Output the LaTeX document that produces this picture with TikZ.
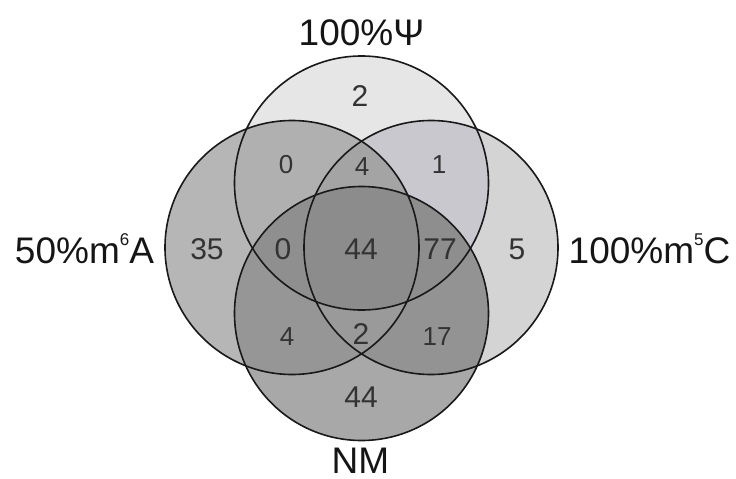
\documentclass[tikz,border=0pt]{standalone}
\usepackage{fontspec}
\setmainfont{Liberation Sans}
\definecolor{cT}{HTML}{E6E6E6}
\definecolor{cL}{HTML}{B6B6B6}
\definecolor{cR}{HTML}{D4D4D4}
\definecolor{cB}{HTML}{A8A8A8}
\definecolor{cTL}{HTML}{B0B0B0}
\definecolor{cTR}{HTML}{C8C8CE}
\definecolor{cLB}{HTML}{969696}
\definecolor{cRB}{HTML}{939393}
\definecolor{cTLR}{HTML}{A4A4A4}
\definecolor{cLRB}{HTML}{9A9A9A}
\definecolor{cTLB}{HTML}{8F8F8F}
\definecolor{cTRB}{HTML}{8E8E8E}
\definecolor{cAll}{HTML}{8C8C8C}
\definecolor{numc}{HTML}{333333}
\definecolor{labc}{HTML}{151515}
\newcommand{\supnum}[1]{\raisebox{18pt}{\fontsize{17}{17}\selectfont #1}}
\begin{document}
\begin{tikzpicture}[x=1pt,y=-1pt,
  ring/.style={draw=black!90,line width=1.6pt},
  bignum/.style={text=numc,font=\fontsize{30}{31}\selectfont,inner sep=0pt},
  smallnum/.style={text=numc,font=\fontsize{26}{27}\selectfont,inner sep=0pt},
  setlabel/.style={text=labc,font=\fontsize{37}{40}\selectfont,inner sep=0pt,anchor=base}]
\useasboundingbox (0,0) rectangle (736,479);
\def\rr{127}
\coordinate (T) at (361.5,183);
\coordinate (L) at (292,247.5);
\coordinate (R) at (431,247.5);
\coordinate (B) at (361.5,313.5);
\def\cT{(T) circle[radius=\rr]}
\def\cL{(L) circle[radius=\rr]}
\def\cR{(R) circle[radius=\rr]}
\def\cB{(B) circle[radius=\rr]}
% singles
\fill[cT] \cT;
\fill[cL] \cL;
\fill[cR] \cR;
\fill[cB] \cB;
% pairs
\begin{scope}\clip \cT; \fill[cTL] \cL; \end{scope}
\begin{scope}\clip \cT; \fill[cTR] \cR; \end{scope}
\begin{scope}\clip \cL; \fill[cLB] \cB; \end{scope}
\begin{scope}\clip \cR; \fill[cRB] \cB; \end{scope}
% triples
\begin{scope}\clip \cT; \clip \cL; \fill[cTLR] \cR; \end{scope}
\begin{scope}\clip \cL; \clip \cR; \fill[cLRB] \cB; \end{scope}
\begin{scope}\clip \cT; \clip \cL; \fill[cTLB] \cB; \end{scope}
\begin{scope}\clip \cT; \clip \cR; \fill[cTRB] \cB; \end{scope}
% all
\begin{scope}\clip \cT; \clip \cL; \clip \cR; \fill[cAll] \cB; \end{scope}
% outlines
\draw[ring] \cT; \draw[ring] \cL; \draw[ring] \cR; \draw[ring] \cB;
% numbers
\node[bignum] (n2) at (360,96) {2};
\node[smallnum] (n0a) at (286,165) {0};
\node[smallnum] (n4a) at (362,167) {4};
\node[smallnum] (n1) at (439,165) {1};
\node[bignum] (n35) at (207,249) {35};
\node[bignum] (n0b) at (283,249) {0};
\node[bignum] (n44a) at (361,249) {44};
\node[bignum] (n77) at (440,249) {77};
\node[bignum] (n5) at (517,249) {5};
\node[smallnum] (n4b) at (287,337) {4};
\node[bignum] (n2b) at (361,334) {2};
\node[smallnum] (n17) at (437,337) {17};
\node[bignum] (n44b) at (361,397) {44};
% labels
\node[setlabel] (lT) at (361.5,45) {100\%Ψ};
\node[setlabel] (lL) at (84.5,263) {50\%m\supnum{6}A};
\node[setlabel] (lR) at (649.5,263) {100\%m\supnum{5}C};
\node[setlabel] (lB) at (360.5,473) {NM};
\end{tikzpicture}
\end{document}
